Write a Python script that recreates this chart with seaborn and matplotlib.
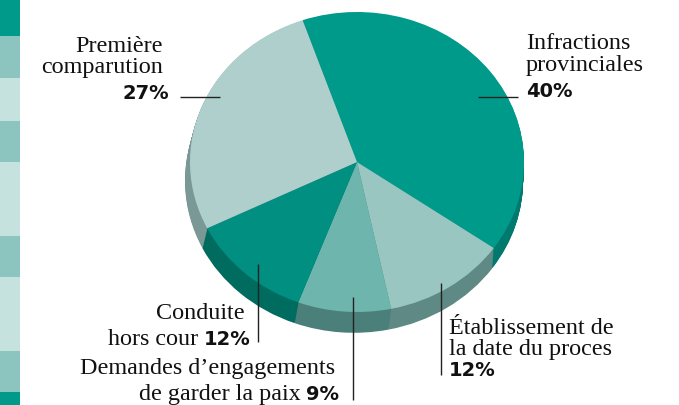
import numpy as np
import matplotlib
matplotlib.use("Agg")
import matplotlib.pyplot as plt
import seaborn as sns

# ---------------- data ----------------
categories = ["Infractions provinciales",
              "Établissement de la date du proces",
              "Demandes d’engagements de garder la paix",
              "Conduite hors cour",
              "Première comparution"]
values = [40, 12, 9, 12, 27]
pct_labels = ["40%", "12%", "9%", "12%", "27%"]
top_colors = ["#009a8b", "#9ac6c1", "#6db5ad", "#008f80", "#aecfcc"]
side_colors = ["#007a6e", "#5f8985", "#4a7f7a", "#006b5f", "#7a9895"]

stripe_heights = [37, 42, 43, 41, 74, 41, 74, 41, 13]
stripe_colors = ["#009a8a", "#8cc5bf", "#c5e2de", "#8cc5bf", "#c5e2de",
                 "#8cc5bf", "#c5e2de", "#8cc5bf", "#009a8a"]

# ---------------- style ----------------
sns.set_theme(style="white")
plt.rcParams["font.family"] = ["Liberation Serif", "DejaVu Serif"]

W, H = 679, 406
fig = plt.figure(figsize=(W / 100, H / 100), dpi=100)
fig.patch.set_facecolor("white")

# ---- left decorative stripe ----
sax = fig.add_axes([0, 0, 20 / W, 1])
bottoms = np.concatenate([[0], np.cumsum(stripe_heights)[:-1]])
sax.bar([0] * len(stripe_heights), stripe_heights, bottom=bottoms, width=1.0,
        color=stripe_colors, linewidth=0)
sax.set_xlim(-0.5, 0.5)
sax.set_ylim(sum(stripe_heights), 0)
sax.axis("off")

# ---- pseudo-3D pie ----
cx, cy = 357, 163      # centre in pixels (from top)
rx, ry = 167, 150      # semi-axes in pixels
depth = 19
shift = 3
ax = fig.add_axes([0, 0, 1, 1])
start = 109
n_layers = 24
for k in range(n_layers, 0, -1):
    f = k / n_layers
    ax.pie(values, colors=side_colors, startangle=start, counterclock=False,
           center=(-shift * f / rx, -depth * f / ry), radius=1 + 0.012 * f,
           wedgeprops=dict(linewidth=0))
ax.pie(values, colors=top_colors, startangle=start, counterclock=False,
       center=(0, 0), radius=1, wedgeprops=dict(linewidth=0))
ax.set_aspect("auto")
ax.set_xlim(-cx / rx, (W - cx) / rx)
ax.set_ylim(-(H - cy) / ry, cy / ry)
ax.axis("off")

# ---- labels overlay ----
tax = fig.add_axes([0, 0, 1, 1])
tax.set_xlim(0, W)
tax.set_ylim(H, 0)
tax.axis("off")
tax.patch.set_alpha(0)

SERIF = dict(family=["Liberation Serif", "DejaVu Serif"], fontsize=17.4, color="#111111")
BOLD = dict(family=["DejaVu Sans"], fontsize=14, fontweight="bold", color="#111111")
renderer = fig.canvas.get_renderer()


def serif(x, y, s, ha):
    return tax.text(x, y, s, ha=ha, va="baseline", **SERIF)


def bold(x, y, s, ha):
    return tax.text(x, y, s, ha=ha, va="baseline", **BOLD)


def serif_then_bold(x_right, y, s, b, gap=6):
    t = bold(x_right, y, b, "right")
    bb = t.get_window_extent(renderer)
    x0 = tax.transData.inverted().transform((bb.x0, bb.y0))[0]
    serif(x0 - gap, y, s, "right")


# Première comparution
serif(163, 51.7, "Première", "right")
serif(163, 73.3, "comparution", "right")
bold(169, 99.3, pct_labels[4], "right")
# Infractions provinciales
serif(526, 49.3, "Infractions", "left")
serif(526, 71, "provinciales", "left")
bold(526, 96.7, pct_labels[0], "left")
# Conduite hors cour
serif(245, 319, "Conduite", "right")
serif_then_bold(251, 345, "hors cour", pct_labels[3])
# Demandes
serif(335, 374.3, "Demandes d’engagements", "right")
serif_then_bold(339, 400, "de garder la paix", pct_labels[2], gap=5)
# Établissement
serif(449, 334.3, "Établissement de", "left")
serif(449, 355, "la date du proces", "left")
bold(449, 376, pct_labels[1], "left")

# leader lines
lk = dict(color="#222222", lw=1.0, solid_capstyle="butt")
tax.plot([180, 220], [97.7, 97.7], **lk)
tax.plot([478, 518], [97.7, 97.7], **lk)
tax.plot([258, 258], [265, 343], **lk)
tax.plot([353, 353], [298, 401], **lk)
tax.plot([441, 441], [284, 376], **lk)

fig.savefig("out.png", dpi=100, facecolor="white")
